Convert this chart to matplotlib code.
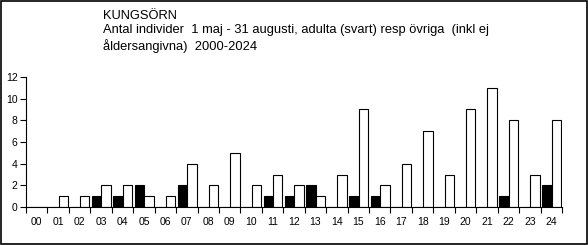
import matplotlib.pyplot as plt
import numpy as np
from matplotlib.patches import Rectangle

plt.rcParams['font.family'] = ['Liberation Sans', 'DejaVu Sans']

years = ["00", "01", "02", "03", "04", "05", "06", "07", "08", "09", "10", "11", "12",
         "13", "14", "15", "16", "17", "18", "19", "20", "21", "22", "23", "24"]
adults = [0, 0, 0, 1, 1, 2, 0, 2, 0, 0, 0, 1, 1, 2, 0, 1, 1, 0, 0, 0, 0, 0, 1, 0, 2]
others = [0, 1, 1, 2, 2, 1, 1, 4, 2, 5, 2, 3, 2, 1, 3, 9, 2, 4, 7, 3, 9, 11, 8, 3, 8]

title = ("KUNGSÖRN\n"
         "Antal individer  1 maj - 31 augusti, adulta (svart) resp övriga  (inkl ej\n"
         "åldersangivna)  2000-2024")

fig = plt.figure(figsize=(5.88, 2.45), dpi=100)
ax = fig.add_axes([26 / 588, 1 - 207 / 245, 536 / 588, 130 / 245])

x = np.arange(len(years))
w = 0.44
ax.bar(x - w / 2 + 0.02, adults, width=w, color="black", edgecolor="black", linewidth=0.8)
ax.bar(x + w / 2 + 0.02, others, width=w, color="white", edgecolor="black", linewidth=0.8)

ax.set_xlim(-0.5, len(years) - 0.5)
ax.set_ylim(0, 12)
ax.set_yticks(range(0, 13, 2))
ax.set_xticks(x)
ax.set_xticklabels(years)
ax.set_xticks(np.arange(-0.5, len(years)), minor=True)
ax.tick_params(axis="x", which="major", length=0, pad=7, labelsize=7.5)
ax.tick_params(axis="x", which="minor", length=4, width=0.8, direction="out")
ax.tick_params(axis="y", length=4, width=0.8, direction="out", pad=2, labelsize=7.5)
for s in ["top", "right"]:
    ax.spines[s].set_visible(False)
for s in ["left", "bottom"]:
    ax.spines[s].set_linewidth(0.8)

fig.text(103 / 588, 1 - 10 / 245, title, fontsize=9.3, va="top", ha="left", linespacing=1.25)

fig.patches.append(Rectangle((0.001, 0.003), 0.997, 0.994, transform=fig.transFigure,
                             fill=False, edgecolor="black", linewidth=1.2))

fig.savefig("out.png", dpi=100)
